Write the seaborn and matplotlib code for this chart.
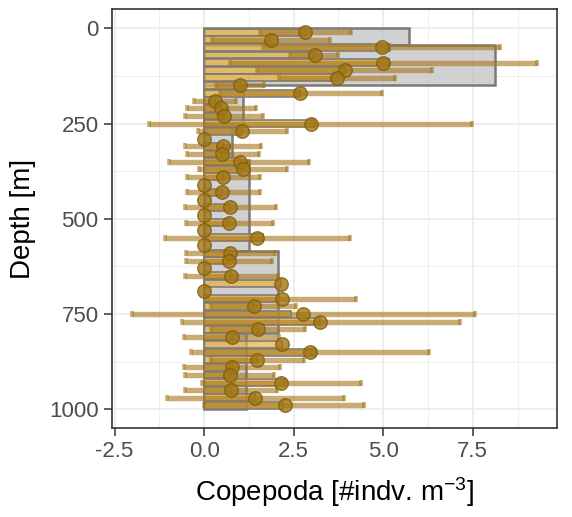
import numpy as np
import pandas as pd
import matplotlib
matplotlib.use("Agg")
import matplotlib.pyplot as plt
import seaborn as sns

# ---------------- data ----------------
depth = [10, 30, 50, 70, 90, 110, 130, 150, 170, 190,
         210, 230, 250, 270, 290, 310, 330, 350, 370, 390,
         410, 430, 450, 470, 490, 510, 530, 550, 570, 590,
         610, 630, 650, 670, 690, 710, 730, 750, 770, 790,
         810, 830, 850, 870, 890, 910, 930, 950, 970, 990]
mean_val = [2.83, 1.87, 4.96, 3.09, 4.99, 3.93, 3.70, 1.01, 2.69, 0.30,
            0.48, 0.55, 2.98, 1.07, 0.00, 0.53, 0.51, 0.99, 1.08, 0.53,
            0.00, 0.51, 0.00, 0.73, 0.00, 0.69, 0.00, 1.49, 0.00, 0.72,
            0.69, 0.00, 0.74, 2.16, 0.00, 2.17, 1.38, 2.77, 3.23, 1.50,
            0.77, 2.17, 2.96, 1.49, 0.78, 0.73, 2.16, 0.75, 1.42, 2.25]
low_val = [1.55, 0.23, 1.64, 2.41, 0.71, 1.47, 2.10, 0.33, 0.44, -0.29,
           -0.47, -0.54, -1.53, -0.17, 0.00, -0.52, -0.49, -0.97, -0.15, -0.49,
           0.00, -0.49, 0.00, -0.53, 0.00, -0.51, 0.00, -1.08, 0.00, -0.51,
           -0.51, 0.00, -0.54, 2.16, 0.00, 0.09, 0.19, -2.02, -0.63, 0.20,
           -0.56, 2.17, -0.38, 0.20, -0.56, -0.52, -0.06, -0.54, -1.04, 0.01]
high_val = [4.11, 3.52, 8.26, 3.75, 9.28, 6.36, 5.33, 1.66, 4.97, 0.90,
            1.44, 1.64, 7.47, 2.31, 0.00, 1.59, 1.53, 2.94, 2.32, 1.56,
            0.00, 1.55, 0.00, 2.01, 0.00, 1.92, 0.00, 4.06, 0.00, 1.97,
            1.90, 0.00, 2.06, 2.16, 0.00, 4.23, 2.57, 7.57, 7.15, 2.82,
            2.10, 2.17, 6.27, 2.80, 2.11, 1.94, 4.37, 2.03, 3.90, 4.46]
bar_val = [2.83, 1.85, 5.18, 3.09, 5.17, 3.93, 3.70, 1.01, 2.69, 0.30,
           0.48, 0.55, 3.10, 1.07, 0.00, 0.53, 0.51, 0.99, 1.08, 0.53,
           0.00, 0.51, 0.00, 0.73, 0.00, 0.69, 0.00, 1.64, 0.00, 0.72,
           0.69, 0.00, 0.74, 2.16, 0.00, 2.10, 1.38, 2.43, 3.23, 1.50,
           0.77, 2.17, 3.12, 1.49, 0.78, 0.73, 2.25, 0.75, 1.42, 2.20]

# depth-binned reference abundance (grey bars)
bin_top = [0, 45, 150, 250, 345, 585, 800]
bin_bottom = [45, 150, 250, 345, 585, 800, 1000]
bin_val = [5.71, 8.12, 1.08, 0.79, 1.25, 2.06, 1.18]

x_ticks = [-2.5, 0.0, 2.5, 5.0, 7.5]
x_ticklabels = ["-2.5", "0.0", "2.5", "5.0", "7.5"]
y_ticks = [0, 250, 500, 750, 1000]
y_ticklabels = ["0", "250", "500", "750", "1000"]

df = pd.DataFrame({"depth": depth, "mean": mean_val, "low": low_val,
                   "high": high_val, "bar": bar_val})
bins = pd.DataFrame({"top": bin_top, "bottom": bin_bottom, "val": bin_val})

# ---------------- style ----------------
sns.set_theme(style="white")
plt.rcParams["font.family"] = ["Liberation Sans", "DejaVu Sans"]
plt.rcParams["mathtext.fontset"] = "custom"
plt.rcParams["mathtext.rm"] = "Liberation Sans"
plt.rcParams["mathtext.it"] = "Liberation Sans:italic"
plt.rcParams["mathtext.bf"] = "Liberation Sans:bold"

fig = plt.figure(figsize=(5.72, 5.17), dpi=100)
ax = fig.add_axes([0.1953, 0.1716, 0.779, 0.8104])

# grey binned bars
ax.barh(y=(bins["top"] + bins["bottom"]) / 2, width=bins["val"],
        height=bins["bottom"] - bins["top"], left=0,
        color=(0.745, 0.745, 0.745, 0.70), edgecolor="#7A7A7A",
        linewidth=1.8, zorder=1.5)

# per-sample bars
bd = df[df["bar"] > 0]
ax.barh(y=bd["depth"], width=bd["bar"], height=18, left=0,
        color=(0.906, 0.690, 0.255, 0.72), edgecolor=(0.48, 0.48, 0.48, 0.9),
        linewidth=1.3, zorder=2)

# error bars
ed = df[df["high"] > df["low"]]
ax.errorbar(ed["mean"], ed["depth"],
            xerr=[ed["mean"] - ed["low"], ed["high"] - ed["mean"]],
            fmt="none", ecolor="#A5751A", alpha=0.6, elinewidth=3.9,
            capsize=2.4, capthick=2.6, zorder=3)

# mean points
sns.scatterplot(data=df, x="mean", y="depth", s=95, color="#A27612",
                alpha=0.8, edgecolor="#7E5C0C", linewidth=1.0,
                ax=ax, zorder=4, legend=False)

# axes
ax.set_xlim(-2.58, 9.86)
ax.set_ylim(1050, -50)
ax.set_xticks(x_ticks)
ax.set_xticklabels(x_ticklabels)
ax.set_yticks(y_ticks)
ax.set_yticklabels(y_ticklabels)
ax.set_xticks([-1.25, 1.25, 3.75, 6.25, 8.75], minor=True)
ax.set_yticks([125, 375, 625, 875], minor=True)
ax.grid(which="major", color="#EBEBEB", linewidth=1.2)
ax.grid(which="minor", color="#EBEBEB", linewidth=0.6)
ax.set_axisbelow(True)
ax.tick_params(which="major", direction="out", length=5.5, width=1.1,
               color="#333333", labelsize=16, labelcolor="#4D4D4D", pad=4,
               bottom=True, left=True)
ax.tick_params(which="minor", length=0)
for s in ax.spines.values():
    s.set_color("#333333")
    s.set_linewidth(1.2)

ax.set_xlabel(r"Copepoda [#indv. m$^{-3}$]", fontsize=20, color="black",
              labelpad=9)
ax.set_ylabel("Depth [m]", fontsize=20, color="black", labelpad=9)

fig.savefig("out.png", dpi=100)
